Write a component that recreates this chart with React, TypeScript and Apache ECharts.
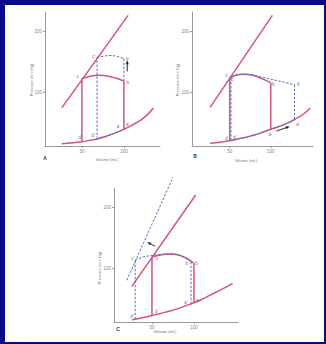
import React, { useEffect, useRef } from "react";
import * as echarts from "echarts";

// ---------- data ----------
const xTickValues = [50, 100];
const yTickValues = [100, 200];

// Panel A
const aEdpvr = [[26, 15], [40, 17], [50, 18.5], [60, 21], [68, 23], [80, 28], [90, 33], [100, 39], [110, 46], [120, 54], [128, 63], [135, 74]];
const aEspvr = [[26, 74], [105, 226]];
const aLoopLeft = [[50, 18.5], [50, 122]];
const aLoopTop = [[50, 122], [60, 126], [70, 127.5], [80, 126.5], [90, 123], [100, 118]];
const aLoopRight = [[100, 118], [100, 39]];
const aDashLeft = [[68, 23], [68, 157]];
const aDashTop = [[68, 157], [76, 159], [84, 160], [92, 158.5], [100, 155]];
const aDashRight = [[100, 155], [100, 118]];
const aDashBottom = [[68, 23], [80, 28], [90, 33], [100, 39]];
const aArrow = [[104, 134], [104, 149]];
const aLabels: [string, number, number][] = [
  ["c", 45, 125], ["c′", 64, 159], ["b′", 104.5, 154], ["b", 104.5, 115],
  ["d", 47.5, 26], ["d′", 63, 29.5], ["a", 93, 44], ["a′", 104.5, 47.5],
];

// Panel B
const bEdpvr = [[26, 16], [40, 18], [50, 20], [60, 23], [70, 26], [80, 29.5], [90, 34], [100, 39], [110, 43.5], [120, 49], [129, 55], [140, 64], [148, 74]];
const bEspvr = [[26, 75], [102, 226]];
const bLoopLeft = [[50, 20], [50, 124]];
const bLoopTop = [[50, 124], [58, 128], [66, 129.5], [75, 128.5], [85, 124.5], [93, 120], [100, 115]];
const bLoopRight = [[100, 115], [100, 39]];
const bDashLeft = [[51.5, 20.5], [51.5, 124]];
const bDashArc = [[51.5, 124], [58, 128], [66, 129.5], [76, 129]];
const bDashTop = [[76, 129], [129, 112]];
const bDashRight = [[129, 112], [129, 55]];
const bDashBottom = [[51.5, 20.5], [60, 23], [70, 26], [80, 29.5], [90, 34], [100, 39], [110, 43.5], [120, 49], [129, 55]];
const bArrow = [[107, 36], [121, 42.6]];
const bLabels: [string, number, number][] = [
  ["c", 46, 128], ["c′", 53.5, 120], ["b", 103, 113], ["b′", 134, 113],
  ["d", 46, 23], ["d′", 56, 26], ["a", 99, 31], ["a′", 133, 47],
];

// Panel C
const cEdpvr = [[26, 15], [30, 16], [40, 19], [50, 22], [60, 25.5], [70, 29], [80, 33], [90, 38], [100, 43], [110, 49], [120, 56], [130, 63], [140, 70], [146, 75]];
const cEspvr = [[26, 70], [102, 220]];
const cEspvrShift = [[20, 80], [75, 249]];
const cLoopLeft = [[50, 22], [50, 118]];
const cLoopTop = [[50, 118], [60, 121.5], [70, 123], [80, 122], [90, 117], [100, 108]];
const cLoopRight = [[100, 108], [100, 43]];
const cDashLeft = [[30, 16], [30, 113]];
const cDashTop = [[30, 113], [40, 118.5], [50, 120.5], [60, 122.5], [70, 123.5], [80, 122.5], [90, 116.5], [96.5, 110.5]];
const cDashRight = [[96.5, 110.5], [96.5, 41]];
const cArrow = [[53.6, 136], [46.4, 141]];
const cLabels: [string, number, number][] = [
  ["c′", 27, 115], ["c", 56, 115], ["b′", 92, 108], ["b", 103, 108],
  ["a′", 90.5, 43], ["a", 104, 46], ["d", 55, 29.5], ["d′", 26, 21],
];

// ---------- styling ----------
const PINK = "#d4547e";
const BLUE = "#5b6fba";
const AXIS = "#9a9a9a";
const FONT = "Liberation Sans, Arial, sans-serif";

const grids = [
  { left: 45, top: 12, width: 115, height: 134, xMin: 6, xMax: 143 },
  { left: 192, top: 12, width: 121, height: 134, xMin: 4, xMax: 151.5 },
  { left: 114, top: 188, width: 124, height: 134, xMin: 4.8, xMax: 152.4 },
];
const Y_MIN = 11.5;
const Y_MAX = 231.5;

function solid(i: number, data: number[][], smooth: number | boolean = false) {
  return {
    type: "line", xAxisIndex: i, yAxisIndex: i, data, smooth,
    showSymbol: false, symbol: "none", clip: false, silent: true, z: 3,
    lineStyle: { color: PINK, width: 1.5 },
  };
}
function dashed(i: number, data: number[][], smooth: number | boolean = false) {
  return {
    type: "line", xAxisIndex: i, yAxisIndex: i, data, smooth,
    showSymbol: false, symbol: "none", clip: false, silent: true, z: 4,
    lineStyle: { color: BLUE, width: 1, type: [2.5, 1.5] },
  };
}
function arrow(i: number, pts: number[][]) {
  const g = grids[i];
  const sx = g.width / (g.xMax - g.xMin);
  const sy = g.height / (Y_MAX - Y_MIN);
  const dx = (pts[1][0] - pts[0][0]) * sx;
  const dy = (pts[1][1] - pts[0][1]) * sy;
  const ang = (Math.atan2(dy, dx) * 180) / Math.PI - 90;
  return [
    {
      type: "line", xAxisIndex: i, yAxisIndex: i, data: pts,
      showSymbol: false, symbol: "none", clip: false, silent: true, z: 5,
      lineStyle: { color: "#111", width: 0.9 },
    },
    {
      type: "scatter", xAxisIndex: i, yAxisIndex: i, data: [pts[1]], silent: true, z: 6,
      symbol: "triangle", symbolSize: [3.2, 4], symbolRotate: ang,
      itemStyle: { color: "#111" },
    },
  ];
}
function labels(i: number, items: [string, number, number][]) {
  return {
    type: "scatter", xAxisIndex: i, yAxisIndex: i, symbolSize: 1, silent: true, z: 6,
    itemStyle: { color: "transparent" },
    data: items.map(([n, x, y]) => ({ name: n, value: [x, y] })),
    label: { show: true, position: "inside", formatter: "{b}", fontSize: 4.5, color: "#444", fontFamily: FONT },
  };
}

export default function App() {
  const ref = useRef<HTMLDivElement>(null);
  useEffect(() => {
    if (!ref.current) return;
    const chart = echarts.init(ref.current, undefined, { renderer: "svg" });
    const axisCommon = {
      type: "value",
      axisLine: { show: true, lineStyle: { color: AXIS, width: 1 } },
      splitLine: { show: false },
    };
    const txt = (x: number, y: number, text: string, rot = 0, size = 4, fill = "#777", bold = false) => ({
      type: "text", x, y, rotation: rot,
      style: { text, fontSize: size, fill, align: "center", verticalAlign: "middle", fontFamily: FONT, fontWeight: bold ? "bold" : "normal" },
    });
    const option: any = {
      animation: false,
      backgroundColor: "#0a0a88",
      grid: grids.map((g) => ({ left: g.left, top: g.top, width: g.width, height: g.height, containLabel: false })),
      xAxis: grids.map((g, i) => ({
        ...axisCommon, gridIndex: i, min: g.xMin, max: g.xMax,
        axisTick: { show: true, length: 2, customValues: xTickValues, lineStyle: { color: AXIS } },
        axisLabel: { show: true, customValues: xTickValues, fontSize: 4.5, color: "#888", margin: 3, fontFamily: FONT },
      })),
      yAxis: grids.map((g, i) => ({
        ...axisCommon, gridIndex: i, min: Y_MIN, max: Y_MAX,
        axisTick: { show: true, length: 2, customValues: yTickValues, lineStyle: { color: AXIS } },
        axisLabel: { show: true, customValues: yTickValues, fontSize: 4.5, color: "#888", margin: 3, fontFamily: FONT },
      })),
      graphic: [
        { type: "rect", z: -10, shape: { x: 5, y: 5, width: 319, height: 337 }, style: { fill: "#ffffff" } },
        txt(31, 80, "Pressure (mm Hg)", Math.PI / 2),
        txt(177, 80, "Pressure (mm Hg)", Math.PI / 2),
        txt(99, 268, "Pressure (mm Hg)", Math.PI / 2),
        txt(107, 159, "Volume (mL)"),
        txt(246, 160, "Volume (mL)"),
        txt(165, 331, "Volume (mL)"),
        txt(45, 158, "A", 0, 5, "#333", true),
        txt(195, 156, "B", 0, 5, "#333", true),
        txt(118, 329, "C", 0, 5, "#333", true),
      ],
      series: [
        // A
        solid(0, aEspvr), solid(0, aEdpvr, true),
        solid(0, aLoopLeft), solid(0, aLoopTop, 0.4), solid(0, aLoopRight),
        dashed(0, aDashLeft), dashed(0, aDashTop, 0.4), dashed(0, aDashRight), dashed(0, aDashBottom, true),
        ...arrow(0, aArrow), labels(0, aLabels),
        // B
        solid(1, bEspvr), solid(1, bEdpvr, true),
        solid(1, bLoopLeft), solid(1, bLoopTop, 0.4), solid(1, bLoopRight),
        dashed(1, bDashLeft), dashed(1, bDashArc, 0.4), dashed(1, bDashTop), dashed(1, bDashRight), dashed(1, bDashBottom, true),
        ...arrow(1, bArrow), labels(1, bLabels),
        // C
        solid(2, cEspvr), dashed(2, cEspvrShift), solid(2, cEdpvr, true),
        solid(2, cLoopLeft), solid(2, cLoopTop, 0.4), solid(2, cLoopRight),
        dashed(2, cDashLeft), dashed(2, cDashTop, 0.4), dashed(2, cDashRight),
        ...arrow(2, cArrow), labels(2, cLabels),
      ],
    };
    chart.setOption(option);
    return () => chart.dispose();
  }, []);
  return (
    <div
      ref={ref}
      style={{ position: "fixed", left: 0, top: 0, width: 326, height: 344 }}
    />
  );
}
